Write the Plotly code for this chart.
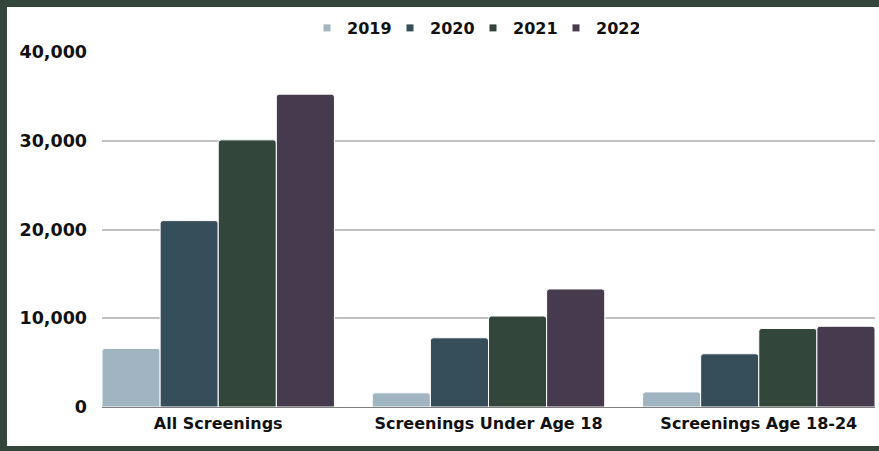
import plotly.graph_objects as go

categories = ["All Screenings", "Screenings Under Age 18", "Screenings Age 18-24"]
years = ["2019", "2020", "2021", "2022"]
values_2019 = [6600, 1600, 1700]
values_2020 = [21000, 7800, 6000]
values_2021 = [30100, 10250, 8850]
values_2022 = [35250, 13300, 9100]
series = [values_2019, values_2020, values_2021, values_2022]
colors = ["#A0B4C2", "#364E5A", "#33463C", "#463B4E"]
tick_vals = [0, 10000, 20000, 30000, 40000]
tick_text = ["0", "10,000", "20,000", "30,000", "40,000"]

FONT = "DejaVu Sans"
W, H = 879, 451
L, R, T, B = 102, 4, 52, 44
pw = W - L - R
ph = H - T - B

fig = go.Figure()
for yr, vals, col in zip(years, series, colors):
    fig.add_trace(go.Bar(
        x=categories, y=vals, name=yr, showlegend=False,
        marker=dict(color=col, line=dict(color="white", width=1)),
    ))
for yr, col in zip(years, colors):
    fig.add_trace(go.Scatter(
        x=[None], y=[None], mode="markers", name=yr,
        marker=dict(symbol="square", size=7, color=col),
    ))

gap = 0.14
fig.update_layout(
    width=W, height=H,
    margin=dict(l=L, r=R, t=T, b=B, pad=0),
    paper_bgcolor="#34453C",
    plot_bgcolor="white",
    barmode="group", bargap=gap, bargroupgap=0, barcornerradius=3,
    font=dict(family=FONT, color="#111111"),
    legend=dict(
        orientation="h", x=(473 - L) / pw, xanchor="center",
        y=(H - B - 28) / ph, yanchor="middle",
        font=dict(family=FONT, size=16, color="#111111", weight="bold"),
        bgcolor="rgba(0,0,0,0)", itemwidth=30,
        entrywidth=38, entrywidthmode="pixels",
    ),
    shapes=[dict(
        type="rect", xref="paper", yref="paper", layer="below",
        x0=(7 - L) / pw, x1=(W + 2 - L) / pw,
        y0=(H - B - 446) / ph, y1=(H - B - 7) / ph,
        fillcolor="white", line=dict(width=0),
    )],
)
fig.update_xaxes(
    range=[-0.5 + gap / 2, 2.5 - gap / 2],
    showline=True, linecolor="#7F7F7F", linewidth=1,
    tickfont=dict(family=FONT, size=16, color="#111111", weight="bold"),
    ticks="", ticklabelstandoff=2,
)
fig.update_yaxes(
    range=[0, 40000], tickvals=tick_vals, ticktext=tick_text,
    showgrid=True, gridcolor="#C0C0C0", gridwidth=2,
    zeroline=False,
    tickfont=dict(family=FONT, size=17.5, color="#111111", weight="bold"),
    ticks="", ticklabelstandoff=14,
)

fig.write_html("out.html")
